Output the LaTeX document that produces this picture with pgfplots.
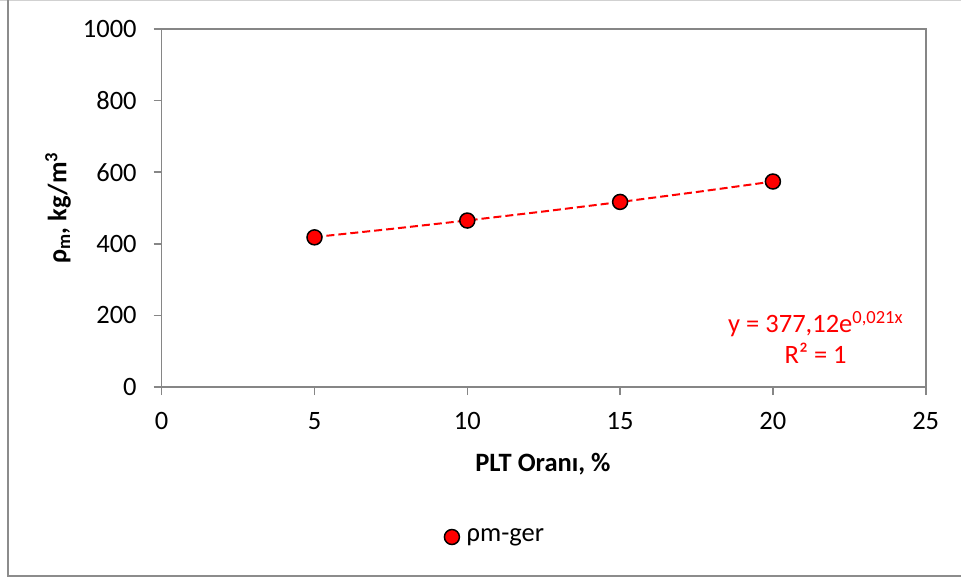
\documentclass[border=0pt]{standalone}
\usepackage{pgfplots}
\pgfplotsset{compat=1.18}
\usepackage{fontspec}
\setmainfont{Carlito}
\definecolor{axgray}{HTML}{868686}
\definecolor{framegray}{HTML}{8C8C8C}
\definecolor{exred}{HTML}{FF0000}
\newcommand{\fs}{\fontsize{26.5}{31}\selectfont}
\begin{document}
\fs
\begin{tikzpicture}
\useasboundingbox (-161.7pt,-192pt) rectangle (799.3pt,387pt);
\draw[framegray!40, line width=1.2pt] (-161.7pt,386.5pt) -- (799.3pt,386.5pt);
\draw[framegray, line width=1.6pt] (-153.7pt,387pt) -- (-153.7pt,-189pt) -- (799.3pt,-189pt);
\begin{axis}[
  at={(0pt,0pt)}, anchor=south west,
  scale only axis, width=764pt, height=358pt,
  xmin=0, xmax=25, ymin=0, ymax=1000,
  xtick={0,5,10,15,20,25},
  ytick={0,200,400,600,800,1000},
  xtick pos=left, ytick pos=left,
  tick align=outside,
  major tick length=8pt,
  axis line style={axgray, line width=1.6pt},
  every tick/.style={axgray, line width=1.6pt},
  /pgf/number format/assume math mode=true,
  /pgf/number format/1000 sep={},
  ticklabel style={font=\fs},
  yticklabel style={xshift=-8pt},
  xticklabel style={yshift=-8pt},
  xlabel={\textbf{PLT Oranı, \%}},
  ylabel={\textbf{ρ\textsubscript{m}, kg/m\textsuperscript{3}}},
  label style={font=\fs},
  xlabel style={at={(axis description cs:0.499,-0.215)}, anchor=center},
  ylabel style={at={(axis description cs:-0.1357,0.5)}, anchor=center},
  legend style={at={(axis description cs:0.3688,-0.419)}, anchor=west, draw=none, fill=none,
    font=\fs, inner sep=0pt, row sep=0pt,
    nodes={inner sep=2pt}},
  legend cell align=left,
  legend image code/.code={\draw[fill=exred, draw=black, line width=1.5pt] (7.5pt,0pt) circle (7.5pt);
    \path (0pt,0pt) (20pt,0pt);},
  clip=false,
]
\addplot[exred, line width=2pt, dash pattern=on 8pt off 4pt, forget plot] coordinates {
  (5,418.87) (7.5,441.45) (10,465.24) (12.5,490.33) (15,516.75) (17.5,544.61) (20,573.96)
};
\addplot[only marks, mark=*, mark size=7.5pt,
  mark options={fill=exred, draw=black, line width=1.5pt}] coordinates {
  (5,418) (10,465) (15,517) (20,574)
};
\addlegendentry{ρm-ger}
\node[exred, align=center, font=\fs] at (axis cs:21.4,137)
  {y = 377,12e\textsuperscript{0,021x}\\R² = 1};
\end{axis}
\end{tikzpicture}
\end{document}
